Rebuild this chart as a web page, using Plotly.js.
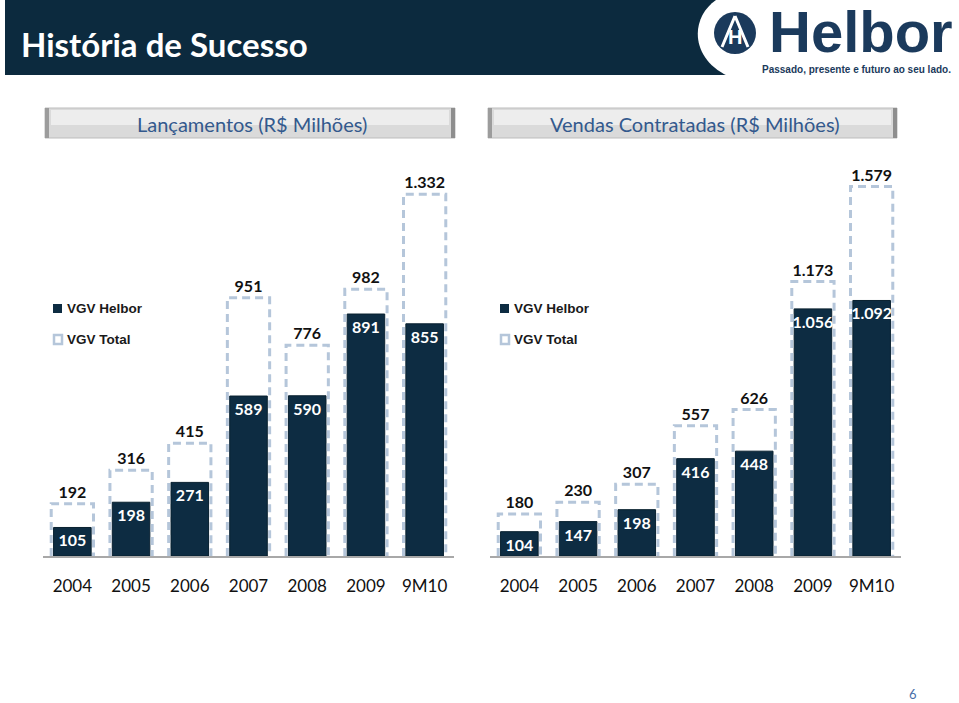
<!DOCTYPE html>
<html>
<head>
<meta charset="utf-8">
<script src="https://cdn.plot.ly/plotly-3.0.1.min.js"></script>
<style>
html,body{margin:0;padding:0;background:#fff;}
#chart{width:959px;height:703px;}
</style>
</head>
<body>
<div id="chart"></div>
<script>
// ---- data ----
const years = ['2004', '2005', '2006', '2007', '2008', '2009', '9M10'];
const launchHelbor = [105, 198, 271, 589, 590, 891, 855];
const launchTotal = [192, 316, 415, 951, 776, 982, 1332];
const salesHelbor = [104, 147, 198, 416, 448, 1056, 1092];
const salesTotal = [180, 230, 307, 557, 626, 1173, 1579];
const legendNames = ['VGV Helbor', 'VGV Total'];
const panelTitles = ['Lançamentos (R$ Milhões)', 'Vendas Contratadas (R$ Milhões)'];

// ---- style ----
const W = 959, H = 703;
const px = x => x / W;
const py = y => 1 - y / H;
const NAVY = '#0d2c42';
const DASH = '#b5c6da';
const OUT_HALF = 0.36;   // half width of dashed total outline (in category units)
const BAR_W = 0.64;
const idx = years.map((_, i) => i);

function outline(vals) {
  const xs = [], ys = [];
  vals.forEach((v, i) => {
    xs.push(i - OUT_HALF, i - OUT_HALF, i + OUT_HALF, i + OUT_HALF, null);
    ys.push(0, v, v, 0, null);
  });
  return {xs, ys};
}

function panelTraces(helbor, total, xa, ya) {
  const o = outline(total);
  return [
    { type: 'bar', x: idx, y: total, width: OUT_HALF * 2, xaxis: xa, yaxis: ya,
      name: legendNames[1], showlegend: false,
      marker: {color: 'rgba(255,255,255,0)', line: {width: 0}},
      texttemplate: '%{y:,.0f}', textposition: 'outside', cliponaxis: false,
      textfont: {family: 'Lato, sans-serif', size: 16, color: '#111', weight: 'bold'},
      hoverinfo: 'skip' },
    { type: 'bar', x: idx, y: helbor, width: BAR_W, xaxis: xa, yaxis: ya,
      name: legendNames[0], showlegend: false,
      marker: {color: NAVY, line: {color: '#08202f', width: 1}},
      texttemplate: '%{y:,.0f}', textposition: 'inside', insidetextanchor: 'end',
      constraintext: 'none', textangle: 0,
      insidetextfont: {family: 'Lato, sans-serif', size: 16, color: '#ffffff', weight: 'bold'},
      hoverinfo: 'skip' },
    { type: 'scatter', mode: 'lines', x: o.xs, y: o.ys, xaxis: xa, yaxis: ya,
      name: legendNames[1], showlegend: false, connectgaps: false,
      line: {color: DASH, width: 3, dash: '8px,5px'}, hoverinfo: 'skip' }
  ];
}

const data = [
  ...panelTraces(launchHelbor, launchTotal, 'x', 'y'),
  ...panelTraces(salesHelbor, salesTotal, 'x2', 'y2')
];

const xaxisBase = {
  type: 'linear', range: [-0.5, 6.5], tickmode: 'array', tickvals: idx, ticktext: years,
  showline: true, linecolor: '#a8a8a8', linewidth: 2, ticks: '', showgrid: false, zeroline: false,
  ticklabelstandoff: 14, fixedrange: true,
  tickfont: {family: 'Lato, sans-serif', size: 17, color: '#111'}
};
const yaxisBase = {showgrid: false, zeroline: false, showticklabels: false, showline: false, ticks: '', fixedrange: true};

const yDom = [py(556), py(150)];

// ---- decorative shapes ----
const shapes = [];
const annotations = [];
// header bar
shapes.push({type: 'rect', xref: 'paper', yref: 'paper', x0: px(5), x1: px(959), y0: py(75), y1: py(0),
  fillcolor: '#0c2a3e', line: {width: 0}, layer: 'below'});
// white logo area with curved left edge
shapes.push({type: 'path', xref: 'paper', yref: 'paper', layer: 'below', fillcolor: '#ffffff', line: {width: 0},
  path: `M ${px(959)},${py(0)} L ${px(716)},${py(0)} C ${px(690)},${py(18)} ${px(690)},${py(58)} ${px(728)},${py(76)} L ${px(959)},${py(76)} Z`});
// logo emblem
shapes.push({type: 'circle', xref: 'paper', yref: 'paper', x0: px(714), x1: px(756), y0: py(54), y1: py(12),
  fillcolor: '#1b3a5c', line: {width: 0}});
shapes.push({type: 'path', xref: 'paper', yref: 'paper', fillcolor: 'rgba(0,0,0,0)', line: {color: '#ffffff', width: 3},
  path: `M ${px(735)},${py(16)} L ${px(722)},${py(47)} M ${px(735)},${py(16)} L ${px(748)},${py(47)}`});

// panel title boxes
function titleBox(x0, x1, y0, y1) {
  shapes.push({type: 'rect', xref: 'paper', yref: 'paper', x0: px(x0), x1: px(x1), y0: py(y1), y1: py(y0),
    fillcolor: '#dadada', line: {color: '#bdbdbd', width: 1}, layer: 'below'});
  shapes.push({type: 'rect', xref: 'paper', yref: 'paper', x0: px(x0 + 6), x1: px(x1 - 6), y0: py(y0 + 17), y1: py(y0 + 2),
    fillcolor: '#ededed', line: {width: 0}, layer: 'below'});
  shapes.push({type: 'rect', xref: 'paper', yref: 'paper', x0: px(x0), x1: px(x0 + 4), y0: py(y1), y1: py(y0),
    fillcolor: '#9c9c9c', line: {width: 0}, layer: 'below'});
  shapes.push({type: 'rect', xref: 'paper', yref: 'paper', x0: px(x1 - 4), x1: px(x1), y0: py(y1), y1: py(y0),
    fillcolor: '#8e8e8e', line: {width: 0}, layer: 'below'});
}
titleBox(45, 455, 108, 138);
titleBox(488, 897, 108, 138);

// legends (manual)
function legend(x, yTop) {
  shapes.push({type: 'rect', xref: 'paper', yref: 'paper', x0: px(x), x1: px(x + 9), y0: py(yTop + 9), y1: py(yTop),
    fillcolor: NAVY, line: {width: 0}});
  shapes.push({type: 'rect', xref: 'paper', yref: 'paper', x0: px(x + 1), x1: px(x + 9), y0: py(yTop + 40), y1: py(yTop + 31),
    fillcolor: '#ffffff', line: {color: DASH, width: 2.5}});
  annotations.push({xref: 'paper', yref: 'paper', x: px(x + 12), y: py(yTop + 4.5), xanchor: 'left', yanchor: 'middle',
    text: legendNames[0], showarrow: false, font: {family: 'Liberation Sans, Arial, sans-serif', size: 13.5, color: '#1a1a1a', weight: 'bold'}});
  annotations.push({xref: 'paper', yref: 'paper', x: px(x + 12), y: py(yTop + 35.5), xanchor: 'left', yanchor: 'middle',
    text: legendNames[1], showarrow: false, font: {family: 'Liberation Sans, Arial, sans-serif', size: 13.5, color: '#1a1a1a', weight: 'bold'}});
}
legend(53, 304);
legend(500, 304);

// texts
annotations.push({xref: 'paper', yref: 'paper', x: px(19), y: py(44), xanchor: 'left', yanchor: 'middle',
  text: 'História de Sucesso', showarrow: false,
  font: {family: 'Lato, sans-serif', size: 33, color: '#ffffff', weight: 'bold'}});
annotations.push({xref: 'paper', yref: 'paper', x: px(735), y: py(37), xanchor: 'center', yanchor: 'middle',
  text: 'H', showarrow: false, font: {family: 'Liberation Sans, Arial, sans-serif', size: 20, color: '#ffffff', weight: 'bold'}});
annotations.push({xref: 'paper', yref: 'paper', x: px(767), y: py(32), xanchor: 'left', yanchor: 'middle',
  text: 'Helbor', showarrow: false, font: {family: 'Liberation Sans, Arial, sans-serif', size: 58, color: '#1b3a5c', weight: 'bold'}});
annotations.push({xref: 'paper', yref: 'paper', x: px(760), y: py(70), xanchor: 'left', yanchor: 'middle',
  text: 'Passado, presente e futuro ao seu lado.', showarrow: false,
  font: {family: 'Liberation Sans, Arial, sans-serif', size: 10, color: '#1b3a5c', weight: 'bold'}});
annotations.push({xref: 'paper', yref: 'paper', x: px(252), y: py(124), xanchor: 'center', yanchor: 'middle',
  text: panelTitles[0], showarrow: false, font: {family: 'Lato, sans-serif', size: 20, color: '#33598d'}});
annotations.push({xref: 'paper', yref: 'paper', x: px(694), y: py(124), xanchor: 'center', yanchor: 'middle',
  text: panelTitles[1], showarrow: false, font: {family: 'Lato, sans-serif', size: 20, color: '#33598d'}});
annotations.push({xref: 'paper', yref: 'paper', x: px(913), y: py(694), xanchor: 'center', yanchor: 'middle',
  text: '6', showarrow: false, font: {family: 'Lato, sans-serif', size: 13, color: '#4a6fa8'}});

const layout = {
  width: W, height: H, margin: {l: 0, r: 0, t: 0, b: 0},
  paper_bgcolor: '#ffffff', plot_bgcolor: 'rgba(0,0,0,0)',
  separators: ',.', barmode: 'overlay', showlegend: false,
  xaxis: Object.assign({}, xaxisBase, {domain: [px(43), px(454)], anchor: 'y'}),
  yaxis: Object.assign({}, yaxisBase, {domain: yDom, range: [0, 1495], anchor: 'x'}),
  xaxis2: Object.assign({}, xaxisBase, {domain: [px(490), px(901)], anchor: 'y2'}),
  yaxis2: Object.assign({}, yaxisBase, {domain: yDom, range: [0, 1735], anchor: 'x2'}),
  shapes, annotations
};

Plotly.newPlot('chart', data, layout, {displayModeBar: false, staticPlot: true});
</script>
</body>
</html>
